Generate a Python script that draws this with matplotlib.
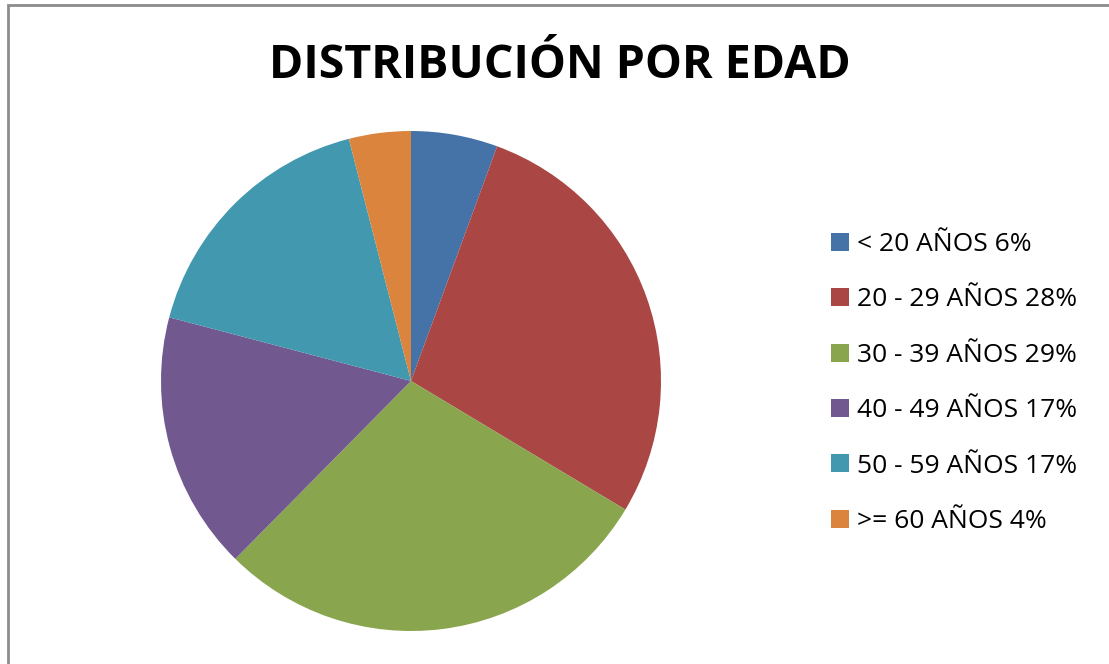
import matplotlib.pyplot as plt
from matplotlib.patches import Rectangle

# age groups and shares
labels = ['< 20 AÑOS 6%', '20 - 29 AÑOS 28%', '30 - 39 AÑOS 29%',
          '40 - 49 AÑOS 17%', '50 - 59 AÑOS 17%', '>= 60 AÑOS 4%']
shares = [5.6, 28.0, 28.8, 16.7, 16.9, 4.0]
colors = ['#4572A7', '#AA4643', '#89A54E', '#71588F', '#4198AF', '#DB843D']

plt.rcParams['font.family'] = ['Open Sans', 'DejaVu Sans']

W, H = 1109, 664
fig = plt.figure(figsize=(W / 100, H / 100), dpi=100)

# grey chart frame (runs off the right and bottom edge)
fig.patches.append(Rectangle((8 / W, -0.1), 1.2, 1 - 5 / H + 0.1,
                             transform=fig.transFigure, fill=False,
                             edgecolor='#8c8c8c', linewidth=2))

cx, cy, r = 411, 381, 250
ax = fig.add_axes([(cx - r) / W, (H - cy - r) / H, 2 * r / W, 2 * r / H])
wedges, _ = ax.pie(shares, colors=colors, startangle=90, counterclock=False,
                   radius=1, wedgeprops=dict(linewidth=0))
ax.set_xlim(-1, 1)
ax.set_ylim(-1, 1)
ax.set_aspect('equal')
ax.axis('off')

fig.text(560 / W, 1 - 66 / H, 'DISTRIBUCIÓN POR EDAD', ha='center', va='center',
         fontsize=33.5, fontweight='bold', color='black')

fig.legend(wedges, labels, loc='center left', bbox_to_anchor=(831 / W, 1 - 383 / H),
           frameon=False, fontsize=19, handlelength=0.68, handleheight=0.68,
           handletextpad=0.3, labelspacing=1.15, borderpad=0, borderaxespad=0)

fig.savefig('out.png', dpi=100)
